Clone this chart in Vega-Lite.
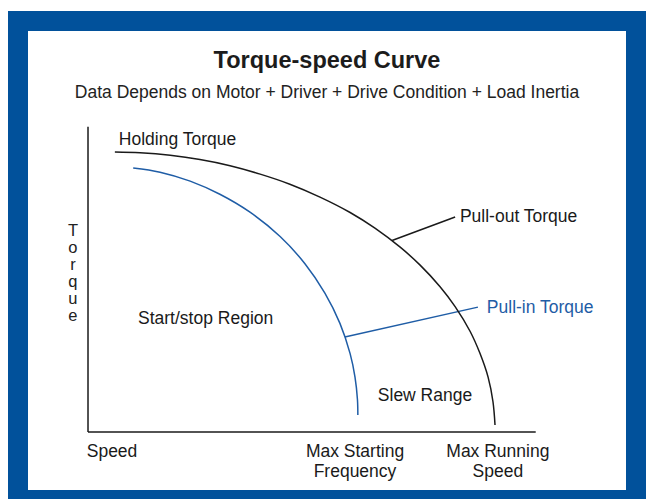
{
  "$schema": "https://vega.github.io/schema/vega-lite/v6.json",
  "width": 618,
  "height": 479,
  "autosize": {"type": "none"},
  "padding": {"left": 18, "top": 21, "right": 14, "bottom": 0},
  "background": "white",
  "title": {
    "text": "Torque-speed Curve",
    "subtitle": "Data Depends on Motor + Driver + Drive Condition + Load Inertia",
    "anchor": "middle",
    "orient": "top",
    "offset": -80,
    "font": "Liberation Sans",
    "fontSize": 23.5,
    "fontWeight": "bold",
    "color": "#1c1c1c",
    "subtitleFont": "Liberation Sans",
    "subtitleFontSize": 17.5,
    "subtitleColor": "#222222",
    "subtitlePadding": 11.5
  },
  "datasets": {
    "curves": [
      {"curve": "Pull-out Torque", "tone": "black", "i": 1, "speed": 6.6, "torque": 100},
      {"curve": "Pull-out Torque", "tone": "black", "i": 2, "speed": 12.8, "torque": 99.7},
      {"curve": "Pull-out Torque", "tone": "black", "i": 3, "speed": 20.2, "torque": 98.8},
      {"curve": "Pull-out Torque", "tone": "black", "i": 4, "speed": 27.5, "torque": 97.3},
      {"curve": "Pull-out Torque", "tone": "black", "i": 5, "speed": 34.9, "torque": 95.1},
      {"curve": "Pull-out Torque", "tone": "black", "i": 6, "speed": 42.3, "torque": 92.1},
      {"curve": "Pull-out Torque", "tone": "black", "i": 7, "speed": 49.6, "torque": 88.5},
      {"curve": "Pull-out Torque", "tone": "black", "i": 8, "speed": 57.0, "torque": 83.9},
      {"curve": "Pull-out Torque", "tone": "black", "i": 9, "speed": 64.4, "torque": 78.4},
      {"curve": "Pull-out Torque", "tone": "black", "i": 10, "speed": 70.5, "torque": 72.8},
      {"curve": "Pull-out Torque", "tone": "black", "i": 11, "speed": 76.7, "torque": 66.0},
      {"curve": "Pull-out Torque", "tone": "black", "i": 12, "speed": 81.6, "torque": 59.6},
      {"curve": "Pull-out Torque", "tone": "black", "i": 13, "speed": 86.5, "torque": 51.9},
      {"curve": "Pull-out Torque", "tone": "black", "i": 14, "speed": 90.2, "torque": 44.8},
      {"curve": "Pull-out Torque", "tone": "black", "i": 15, "speed": 93.9, "torque": 35.9},
      {"curve": "Pull-out Torque", "tone": "black", "i": 16, "speed": 96.3, "torque": 28.1},
      {"curve": "Pull-out Torque", "tone": "black", "i": 17, "speed": 98.3, "torque": 19.6},
      {"curve": "Pull-out Torque", "tone": "black", "i": 18, "speed": 99.5, "torque": 10.8},
      {"curve": "Pull-out Torque", "tone": "black", "i": 19, "speed": 100, "torque": 2.5},
      {"curve": "Pull-in Torque", "tone": "blue", "i": 1, "speed": 11.1, "torque": 94.3},
      {"curve": "Pull-in Torque", "tone": "blue", "i": 2, "speed": 17.7, "torque": 92.8},
      {"curve": "Pull-in Torque", "tone": "blue", "i": 3, "speed": 25.1, "torque": 89.6},
      {"curve": "Pull-in Torque", "tone": "blue", "i": 4, "speed": 32.4, "torque": 84.9},
      {"curve": "Pull-in Torque", "tone": "blue", "i": 5, "speed": 39.8, "torque": 78.5},
      {"curve": "Pull-in Torque", "tone": "blue", "i": 6, "speed": 47.2, "torque": 69.8},
      {"curve": "Pull-in Torque", "tone": "blue", "i": 7, "speed": 53.3, "torque": 60.1},
      {"curve": "Pull-in Torque", "tone": "blue", "i": 8, "speed": 58.2, "torque": 49.6},
      {"curve": "Pull-in Torque", "tone": "blue", "i": 9, "speed": 61.9, "torque": 38.8},
      {"curve": "Pull-in Torque", "tone": "blue", "i": 10, "speed": 64.4, "torque": 28.0},
      {"curve": "Pull-in Torque", "tone": "blue", "i": 11, "speed": 65.6, "torque": 19.6},
      {"curve": "Pull-in Torque", "tone": "blue", "i": 12, "speed": 66.2, "torque": 11.6},
      {"curve": "Pull-in Torque", "tone": "blue", "i": 13, "speed": 66.3, "torque": 6.1}
    ],
    "rules": [
      {"kind": "torque axis", "tone": "black", "x": 0, "y": 0, "x2": 0, "y2": 109},
      {"kind": "speed axis", "tone": "black", "x": 0, "y": 0, "x2": 110, "y2": 0},
      {"kind": "pull-out leader", "tone": "black", "x": 74.7, "y": 68.4, "x2": 90.2, "y2": 76.8},
      {"kind": "pull-in leader", "tone": "blue", "x": 63.1, "y": 33.9, "x2": 95.8, "y2": 44.6}
    ],
    "labels": [
      {"text": "Holding Torque", "tone": "black", "x": 22.0, "y": 102.5},
      {"text": "Pull-out Torque", "tone": "black", "x": 105.8, "y": 75.0},
      {"text": "Pull-in Torque", "tone": "blue", "x": 111.1, "y": 42.5},
      {"text": "Start/stop Region", "tone": "black", "x": 28.9, "y": 38.6},
      {"text": "Slew Range", "tone": "black", "x": 82.8, "y": 11.1},
      {"text": "Speed", "tone": "black", "x": 5.9, "y": -8.9},
      {"text": "Max Starting\nFrequency", "tone": "black", "x": 65.6, "y": -8.9},
      {"text": "Max Running\nSpeed", "tone": "black", "x": 100.7, "y": -8.9}
    ],
    "axisTitle": [
      {"text": "T\no\nr\nq\nu\ne", "tone": "black", "x": -3.7, "y": 70.0}
    ]
  },
  "layer": [
    {
      "data": {"name": "rules"},
      "mark": {"type": "rule", "strokeWidth": 1.5},
      "encoding": {
        "x": {"field": "x", "type": "quantitative", "scale": {"domain": [-17.2, 134.64], "nice": false, "zero": false}, "axis": null},
        "y": {"field": "y", "type": "quantitative", "scale": {"domain": [-24.29, 146.79], "nice": false, "zero": false}, "axis": null},
        "x2": {"field": "x2"},
        "y2": {"field": "y2"},
        "color": {"field": "tone", "type": "nominal", "scale": {"domain": ["black", "blue"], "range": ["#1a1a1a", "#1f5da6"]}, "legend": null}
      }
    },
    {
      "data": {"name": "curves"},
      "mark": {"type": "line", "strokeWidth": 1.5, "interpolate": "catmull-rom"},
      "encoding": {
        "x": {"field": "speed", "type": "quantitative"},
        "y": {"field": "torque", "type": "quantitative"},
        "detail": {"field": "curve"},
        "order": {"field": "i", "type": "quantitative"},
        "color": {"field": "tone", "type": "nominal", "scale": {"domain": ["black", "blue"], "range": ["#1a1a1a", "#1f5da6"]}, "legend": null}
      }
    },
    {
      "data": {"name": "labels"},
      "mark": {"type": "text", "font": "Liberation Sans", "fontSize": 17.5, "align": "center", "baseline": "alphabetic", "lineBreak": "\n", "lineHeight": 20},
      "encoding": {
        "x": {"field": "x", "type": "quantitative"},
        "y": {"field": "y", "type": "quantitative"},
        "text": {"field": "text"},
        "color": {"field": "tone", "type": "nominal", "scale": {"domain": ["black", "blue"], "range": ["#222222", "#1f5da6"]}, "legend": null}
      }
    },
    {
      "data": {"name": "axisTitle"},
      "mark": {"type": "text", "font": "Liberation Sans", "fontSize": 16.5, "align": "center", "baseline": "alphabetic", "lineBreak": "\n", "lineHeight": 17},
      "encoding": {
        "x": {"field": "x", "type": "quantitative"},
        "y": {"field": "y", "type": "quantitative"},
        "text": {"field": "text"},
        "color": {"value": "#222222"}
      }
    }
  ],
  "config": {
    "view": {"stroke": "#01519b", "strokeWidth": 20, "fill": "white"}
  }
}
